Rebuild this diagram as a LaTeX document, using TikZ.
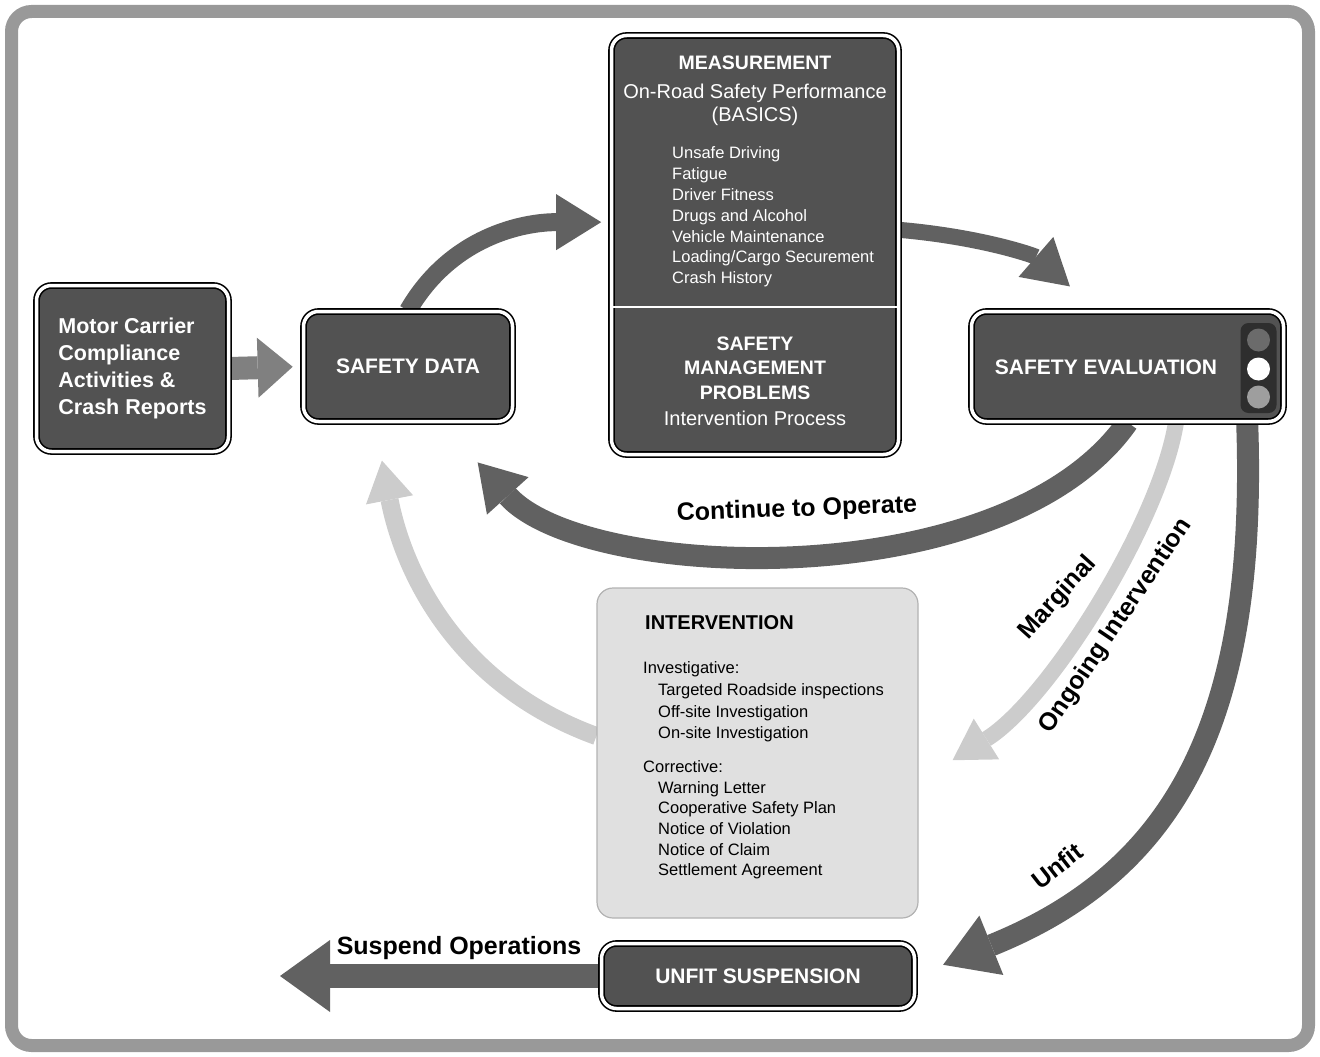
\documentclass[tikz,border=0pt]{standalone}
\usepackage{fontspec}
\setmainfont{Liberation Sans}
\usetikzlibrary{arrows.meta,backgrounds}

\begin{document}
\begin{tikzpicture}[x=1pt, y=-1pt,
  darkbox/.style={draw=black, line width=1.6pt, double=white, double distance=3.5pt,
    fill=black!68, rounded corners=15pt, text=white, inner sep=0pt,
    font=\fontsize{21}{27}\selectfont\bfseries},
  boxtext/.style={text=white, inner sep=0pt},
  fatarrow/.style={line width=20pt, draw=black!62,
    -{Triangle[length=45pt,width=56pt,line width=0pt]}},
  lightarrow/.style={line width=16pt, draw=black!20,
    -{Triangle[length=40pt,width=48pt,line width=0pt]}},
  lbl/.style={font=\fontsize{25}{30}\selectfont\bfseries, inner sep=0pt}]

  \newcommand{\lampdot}[3]{\node[circle, minimum size=23pt, inner sep=0pt, fill=#3] (#1) at (1258.5, #2) {};}

  \useasboundingbox (0,0) rectangle (1320,1057);
  \draw[black!40, line width=13pt, rounded corners=20pt] (11.5,11.5) rectangle (1308.5,1045.5);

  % boxes
  \node[darkbox, minimum width=192pt, minimum height=166pt, align=left,
    font=\fontsize{21.5}{27}\selectfont\bfseries] (motor) at (132.5, 368.5)
    {Motor Carrier\\Compliance\\Activities \&\\Crash Reports};
  \node[darkbox, minimum width=209pt, minimum height=110pt] (sdata) at (408, 366.5) {SAFETY DATA};
  \node[darkbox, minimum width=287pt, minimum height=419pt] (meas) at (755, 245) {};
  \node[darkbox, minimum width=312pt, minimum height=110pt] (seval) at (1127.5, 366.5) {};
  \node[darkbox, minimum width=313pt, minimum height=65pt] (unfit) at (758, 976) {UNFIT SUSPENSION};
  \node[draw=black!30, line width=1.2pt, fill=black!12, rounded corners=16pt,
    minimum width=321pt, minimum height=330pt] (interv) at (757.5, 753) {};

  % measurement
  \node[boxtext, font=\fontsize{19.5}{24}\selectfont\bfseries] (meastitle) at (755, 63) {MEASUREMENT};
  \node[boxtext, align=center, font=\fontsize{20}{23}\selectfont] (measbasics) at (755, 105)
    {On-Road Safety Performance\\(BASICS)};
  \node[boxtext, align=left, anchor=west, font=\fontsize{16.5}{20.8}\selectfont] (measlist) at (672, 217)
    {Unsafe Driving\\Fatigue\\Driver Fitness\\Drugs and Alcohol\\Vehicle Maintenance\\Loading/Cargo Securement\\Crash History};
  \draw[white, line width=2pt] (613, 307) -- (897, 307);
  \node[boxtext, align=center, font=\fontsize{19.5}{24.5}\selectfont\bfseries] (smp) at (755, 368)
    {SAFETY\\MANAGEMENT\\PROBLEMS};
  \node[boxtext, font=\fontsize{20}{24}\selectfont] (process) at (755, 418) {Intervention Process};

  % evaluation
  \node[boxtext, font=\fontsize{21}{27}\selectfont\bfseries] (sevaltext) at (1106, 367) {SAFETY EVALUATION};
  \node[fill=black!82, rounded corners=8pt, minimum width=36pt, minimum height=90pt, inner sep=0pt]
    (lamps) at (1258.5, 368) {};
  \lampdot{lamptop}{340}{black!58}
  \lampdot{lampmid}{369}{white}
  \lampdot{lampbot}{397}{black!38}

  % intervention
  \node[anchor=west, inner sep=0pt, font=\fontsize{20}{24}\selectfont\bfseries] (inttitle) at (645, 623) {INTERVENTION};
  \node[anchor=west, align=left, inner sep=0pt, font=\fontsize{16.5}{21.7}\selectfont] (invest) at (643, 702)
    {Investigative:\\\hspace*{15pt}Targeted Roadside inspections\\\hspace*{15pt}Off-site Investigation\\\hspace*{15pt}On-site Investigation};
  \node[anchor=west, align=left, inner sep=0pt, font=\fontsize{16.5}{20.6}\selectfont] (correct) at (643, 820)
    {Corrective:\\\hspace*{15pt}Warning Letter\\\hspace*{15pt}Cooperative Safety Plan\\\hspace*{15pt}Notice of Violation\\\hspace*{15pt}Notice of Claim\\\hspace*{15pt}Settlement Agreement};

  \coordinate (suspend) at (280, 976);

  % connectors
  \begin{pgfonlayer}{background}
    \draw[fatarrow, line width=23pt, draw=black!50, shorten >=10pt,
      -{Triangle[length=35pt,width=60pt,line width=0pt]}] (motor.east) -- (sdata.west);
    \draw[fatarrow, line width=18pt, shorten >=9.5pt] (sdata.north) to[out=60, in=180] (meas.171);
    \draw[fatarrow, line width=16pt, shorten >=37pt,
      -{Triangle[length=45pt,width=53pt,line width=0pt]}] (meas.6) to[out=-5, in=139] (seval.118);
    \draw[fatarrow, line width=22pt, shorten >=54pt] (seval.south) to[out=235, in=-48, looseness=0.8] (sdata.-59);
    \draw[lightarrow, shorten >=40pt] (seval.-49)
      to[out=-99, in=32, out looseness=0.575, in looseness=0.9] (interv.-10);
    \draw[lightarrow, line width=18pt, shorten >=39pt] (interv.174) to[out=160, in=-79] (sdata.239);
    \draw[fatarrow, line width=22pt, shorten >=30pt,
      -{Triangle[length=52pt,width=64pt,line width=0pt]}] (seval.-25)
      to[out=-88, in=22, out looseness=1.2, in looseness=1.1] (unfit.east);
    \draw[fatarrow, line width=24pt,
      -{Triangle[length=50pt,width=72pt,line width=0pt]}] (unfit.west) -- (suspend);
  \end{pgfonlayer}

  % labels
  \node[lbl, rotate=2] (contlbl) at (797, 510) {Continue to Operate};
  \node[lbl, rotate=48] (marglbl) at (1058, 598) {Marginal};
  \node[lbl, rotate=56] (ongolbl) at (1116, 626) {Ongoing Intervention};
  \node[lbl, rotate=38] (unfitlbl) at (1057, 866) {Unfit};
  \node[lbl] (susplbl) at (459, 948) {Suspend Operations};

\end{tikzpicture}
\end{document}
